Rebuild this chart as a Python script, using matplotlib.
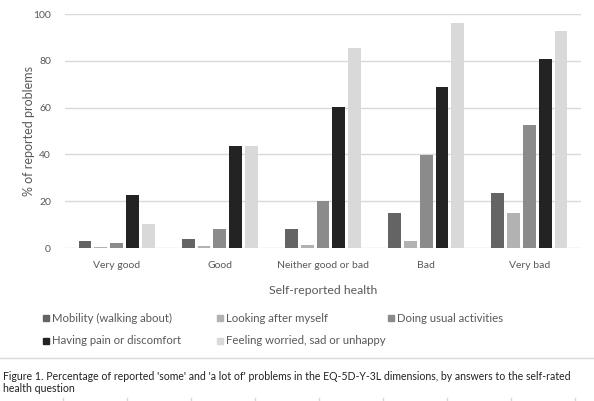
import numpy as np
import matplotlib
matplotlib.use("Agg")
import matplotlib.pyplot as plt
from matplotlib.patches import Rectangle
from matplotlib.lines import Line2D

plt.rcParams['font.family'] = ['Lato', 'DejaVu Sans']

# data
categories = ['Very good', 'Good', 'Neither good or bad', 'Bad', 'Very bad']
series = ['Mobility (walking about)', 'Looking after myself',
          'Doing usual activities', 'Having pain or discomfort',
          'Feeling worried, sad or unhappy']
mobility = [2.8, 4.0, 8.1, 15.0, 23.5]
looking = [0.3, 0.7, 1.3, 3.1, 15.0]
doing = [2.3, 8.1, 20.1, 39.9, 52.6]
pain = [22.5, 43.7, 60.4, 68.9, 80.6]
feeling = [10.1, 43.7, 85.3, 96.3, 92.9]
values = [mobility, looking, doing, pain, feeling]
colors = ['#646464', '#b2b2b2', '#8b8b8b', '#232323', '#d9d9d9']

text_col = '#595959'
grid_col = '#d9d9d9'
W, H = 594, 401

fig = plt.figure(figsize=(5.94, 4.01), dpi=100)
ax = fig.add_axes([65 / W, 1 - 248 / H, 516 / W, 234 / H])

x = np.arange(len(categories))
width = 0.123
pitch = 0.153
for i, (vals, col) in enumerate(zip(values, colors)):
    ax.bar(x + (i - 2) * pitch, vals, width, color=col, label=series[i], zorder=3)

ax.set_xlim(-0.5, len(categories) - 0.5)
ax.set_ylim(0, 100)
ax.set_yticks(range(0, 101, 20))
ax.set_xticks(x)
ax.set_xticklabels(categories)
ax.yaxis.grid(True, color=grid_col, linewidth=1, zorder=0)
for s in ax.spines.values():
    s.set_visible(False)
ax.tick_params(length=0, colors=text_col, labelsize=7.5)
ax.tick_params(axis='y', pad=10)
ax.tick_params(axis='x', pad=9)

ax.set_ylabel('% of reported problems', color=text_col, fontsize=9, labelpad=-1)
ax.set_xlabel('Self-reported health', color=text_col, fontsize=8.8, labelpad=11)

# legend laid out in two rows like the original (fixed column slots)
slots = [(43, 318), (217, 318), (388, 318), (43, 341), (217, 341)]
for (px, py), lab, col in zip(slots, series, colors):
    fig.add_artist(Rectangle((px / W, 1 - (py + 3) / H), 6 / W, 6 / H,
                             transform=fig.transFigure, color=col))
    fig.text((px + 9) / W, 1 - py / H, lab, fontsize=8.2, color=text_col,
             va='center')

# separator and caption
fig.add_artist(Line2D([0, 1], [1 - 358 / H] * 2, color=grid_col, linewidth=1))
fig.text(3 / W, 1 - 377 / H,
         "Figure 1. Percentage of reported 'some' and 'a lot of' problems in the "
         "EQ-5D-Y-3L dimensions, by answers to the self-rated",
         fontsize=7.6, color='#222222', va='center')
fig.text(3 / W, 1 - 389 / H, "health question",
         fontsize=7.6, color='#222222', va='center')

# faint table cell borders at the bottom edge
for k in range(9):
    xp = (63 + 64 * k) / W
    fig.add_artist(Line2D([xp, xp], [0, 3 / H], color=grid_col, linewidth=1))

fig.savefig('out.png', dpi=100)
